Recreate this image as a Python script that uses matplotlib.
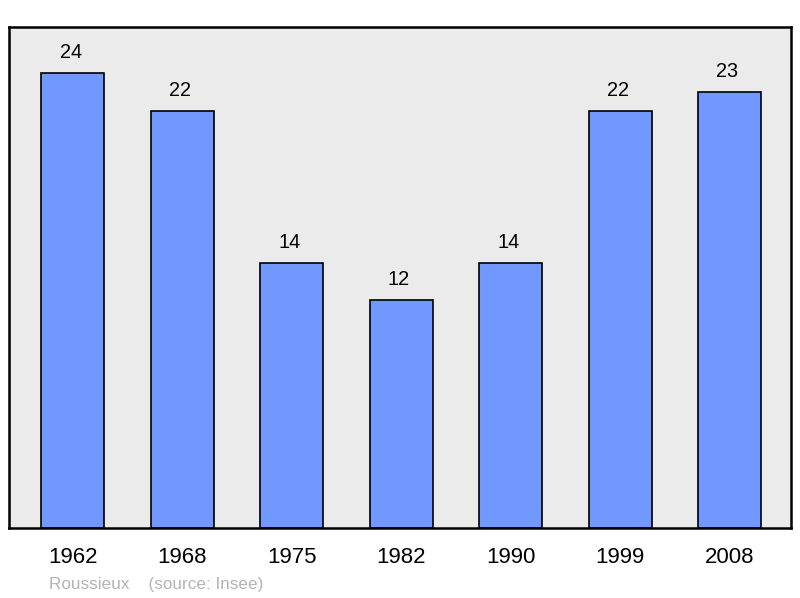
import matplotlib
matplotlib.use("Agg")
import matplotlib.pyplot as plt

years = ["1962", "1968", "1975", "1982", "1990", "1999", "2008"]
values = [24, 22, 14, 12, 14, 22, 23]

plt.rcParams['font.family'] = ['Liberation Sans', 'DejaVu Sans']

fig = plt.figure(figsize=(8, 5.98), dpi=100)
ax = fig.add_axes([9/800, 1 - 528/598, (791-9)/800, (528-27)/598])
ax.set_facecolor('#ebebeb')
x = list(range(len(years)))
ax.bar(x, values, width=0.576, color='#7098ff', edgecolor='black', linewidth=1.2, zorder=2)
for xi, v in zip(x, values):
    ax.text(xi - 0.02, v + 0.79, str(v), ha='center', va='baseline', fontsize=14.3, color='black')
ax.set_xlim(-0.584, 6.562)
ax.set_ylim(0, 26.42)
ax.set_yticks([])
ax.set_xticks(x)
ax.set_xticklabels(years, fontsize=16)
ax.tick_params(axis='x', length=0, pad=14)
for s in ax.spines.values():
    s.set_linewidth(1.8)
    s.set_color('black')
fig.text(49/800, 1 - 584/598, "Roussieux    (source: Insee)", fontsize=12.3, color='#b4b4b4', ha='left', va='center')
fig.savefig("out.png", dpi=100)
